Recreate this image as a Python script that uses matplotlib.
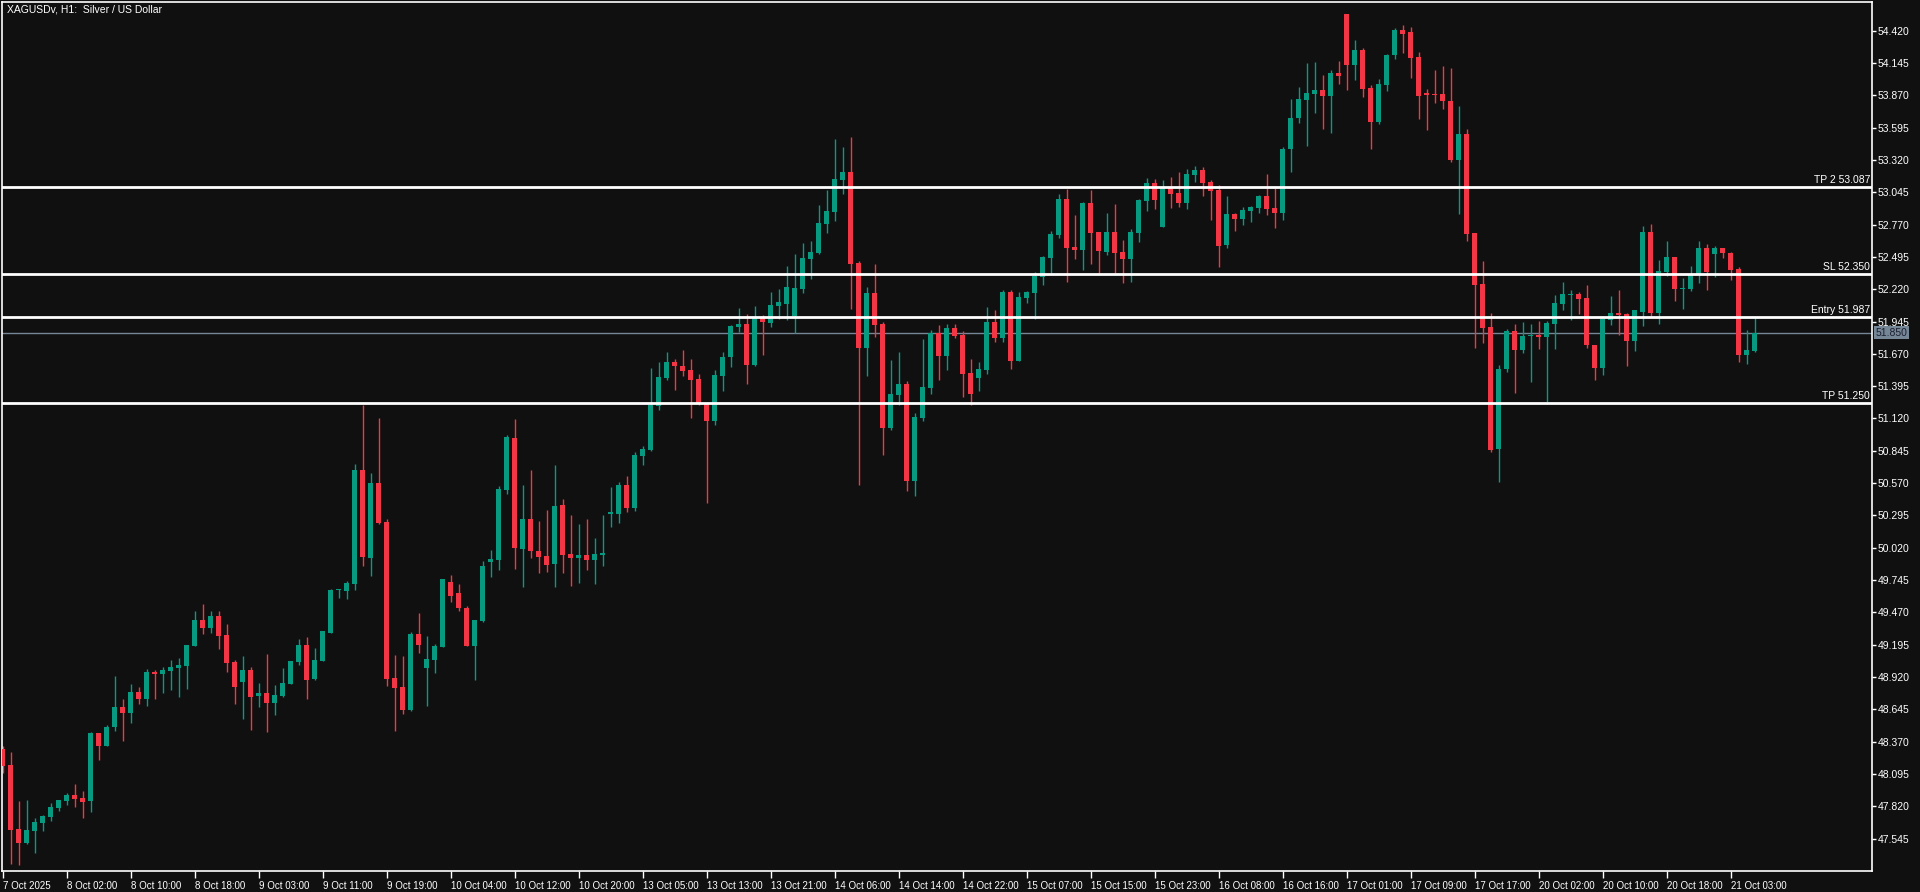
import matplotlib
matplotlib.use("Agg")
import matplotlib.pyplot as plt
import numpy as np

plt.rcParams['font.family'] = ['Liberation Sans', 'DejaVu Sans']

title = "XAGUSDv, H1:  Silver / US Dollar"

opens = [48.307, 48.171, 47.626, 47.510, 47.612, 47.680, 47.731, 47.808, 47.867, 47.916,
         47.890, 47.865, 48.443, 48.333, 48.494, 48.665, 48.613, 48.792, 48.733, 48.962,
         48.945, 48.971, 48.996, 49.013, 49.184, 49.405, 49.337, 49.439, 49.277, 49.047,
         48.877, 48.979, 48.758, 48.784, 48.699, 48.758, 48.860, 49.047, 49.192, 48.902,
         49.056, 49.294, 49.660, 49.651, 49.711, 50.681, 49.932, 50.570, 50.238, 48.911,
         48.834, 48.638, 49.285, 48.996, 49.064, 49.175, 49.728, 49.634, 49.507, 49.183,
         49.396, 49.898, 49.915, 50.511, 50.953, 50.009, 50.264, 49.992, 49.949, 49.881,
         50.383, 49.966, 49.932, 49.958, 49.915, 49.958, 50.307, 50.307, 50.554, 50.360,
         50.800, 50.851, 51.226, 51.464, 51.600, 51.566, 51.532, 51.456, 51.243, 51.098,
         51.481, 51.643, 51.898, 51.924, 51.575, 51.975, 51.932, 52.077, 52.094, 51.992,
         52.222, 52.477, 52.528, 52.775, 52.877, 53.149, 53.217, 52.443, 51.720, 52.188,
         51.924, 51.039, 51.320, 51.413, 50.588, 51.124, 51.379, 51.847, 51.651, 51.890,
         51.830, 51.507, 51.464, 51.532, 51.941, 51.805, 52.196, 51.609, 52.145, 52.188,
         52.324, 52.486, 52.681, 52.988, 52.579, 52.554, 52.954, 52.707, 52.537, 52.707,
         52.537, 52.477, 52.698, 52.971, 53.124, 52.749, 53.081, 53.039, 52.954, 53.192,
         53.234, 53.132, 53.064, 52.596, 52.860, 52.817, 52.886, 52.911, 53.013, 52.911,
         52.869, 53.413, 53.677, 53.830, 53.881, 53.915, 53.864, 54.060, 54.562, 54.128,
         54.255, 53.932, 53.643, 53.958, 54.213, 54.426, 54.409, 54.196, 53.890, 53.881,
         53.881, 53.821, 53.319, 53.541, 52.698, 52.264, 51.898, 50.860, 51.541, 51.864,
         51.702, 51.821, 51.830, 51.813, 51.924, 52.094, 52.170, 52.179, 52.145, 51.745,
         51.549, 51.958, 52.017, 52.009, 51.779, 52.026, 52.707, 52.017, 52.366, 52.494,
         52.222, 52.222, 52.349, 52.570, 52.519, 52.570, 52.528, 52.392, 51.660, 51.694]

highs = [48.330, 48.284, 47.865, 47.873, 47.720, 47.748, 47.847, 47.873, 47.935, 48.009,
         47.950, 48.452, 48.443, 48.511, 48.928, 48.733, 48.860, 48.835, 48.988, 48.979,
         49.005, 49.065, 49.082, 49.192, 49.482, 49.541, 49.482, 49.482, 49.371, 49.065,
         49.099, 49.005, 48.869, 49.116, 48.852, 48.996, 49.056, 49.243, 49.260, 49.166,
         49.311, 49.668, 49.668, 49.736, 50.732, 51.234, 50.656, 51.124, 50.264, 49.107,
         49.098, 49.302, 49.464, 49.268, 49.200, 49.753, 49.787, 49.711, 49.524, 49.404,
         49.907, 50.000, 50.545, 50.979, 51.115, 50.553, 50.681, 50.247, 50.341, 50.724,
         50.434, 50.298, 50.221, 50.264, 50.102, 50.298, 50.536, 50.579, 50.630, 50.834,
         50.886, 51.549, 51.600, 51.686, 51.626, 51.703, 51.626, 51.498, 51.243, 51.532,
         51.686, 51.915, 52.060, 52.009, 52.077, 52.000, 52.196, 52.222, 52.417, 52.520,
         52.613, 52.630, 52.937, 53.064, 53.498, 53.430, 53.515, 52.460, 52.239, 52.434,
         51.941, 51.617, 51.686, 51.439, 51.166, 51.796, 51.873, 51.915, 51.924, 51.924,
         51.864, 51.626, 51.600, 52.069, 52.043, 52.213, 52.213, 52.196, 52.205, 52.366,
         52.503, 52.715, 53.030, 53.073, 52.851, 52.962, 53.064, 52.707, 52.869, 52.945,
         52.639, 52.732, 52.988, 53.166, 53.158, 53.149, 53.175, 53.217, 53.243, 53.269,
         53.260, 53.149, 53.107, 53.013, 52.869, 52.920, 52.928, 53.022, 53.200, 53.081,
         53.430, 53.838, 53.941, 54.145, 54.153, 54.043, 54.085, 54.162, 54.562, 54.341,
         54.272, 53.958, 54.009, 54.221, 54.443, 54.468, 54.451, 54.238, 53.924, 54.085,
         54.119, 54.102, 53.779, 53.583, 52.698, 52.460, 52.017, 51.575, 51.881, 51.924,
         51.941, 51.924, 51.949, 51.949, 52.170, 52.281, 52.213, 52.196, 52.256, 51.745,
         51.975, 52.162, 52.213, 52.017, 52.043, 52.758, 52.775, 52.468, 52.630, 52.494,
         52.315, 52.417, 52.630, 52.605, 52.588, 52.570, 52.536, 52.409, 51.873, 51.975]

lows = [48.100, 47.328, 47.320, 47.499, 47.425, 47.612, 47.697, 47.782, 47.830, 47.811,
        47.723, 47.774, 48.213, 48.333, 48.460, 48.375, 48.528, 48.690, 48.673, 48.733,
        48.784, 48.809, 48.750, 48.818, 49.184, 49.286, 49.294, 49.158, 48.962, 48.690,
        48.562, 48.469, 48.665, 48.452, 48.596, 48.750, 48.860, 49.022, 48.733, 48.894,
        49.056, 49.294, 49.592, 49.583, 49.660, 49.864, 49.779, 50.221, 48.843, 48.460,
        48.604, 48.630, 49.124, 48.673, 48.953, 49.175, 49.558, 49.481, 49.183, 48.894,
        49.387, 49.770, 49.830, 50.477, 49.838, 49.685, 49.932, 49.804, 49.813, 49.685,
        49.804, 49.694, 49.719, 49.830, 49.711, 49.864, 50.196, 50.230, 50.320, 50.330,
        50.724, 50.843, 51.192, 51.447, 51.362, 51.481, 51.124, 51.234, 50.400, 51.064,
        51.354, 51.558, 51.856, 51.413, 51.566, 51.660, 51.898, 51.966, 51.958, 51.847,
        52.188, 52.307, 52.520, 52.698, 52.800, 53.030, 52.051, 50.554, 51.481, 51.813,
        50.809, 51.022, 51.234, 50.503, 50.460, 51.098, 51.328, 51.447, 51.532, 51.805,
        51.303, 51.234, 51.354, 51.498, 51.771, 51.771, 51.541, 51.609, 52.103, 51.966,
        52.256, 52.358, 52.656, 52.281, 52.477, 52.383, 52.434, 52.358, 52.511, 52.358,
        52.273, 52.281, 52.622, 52.886, 52.903, 52.749, 52.911, 52.920, 52.903, 53.132,
        53.013, 52.809, 52.409, 52.571, 52.715, 52.766, 52.792, 52.869, 52.851, 52.741,
        52.809, 53.217, 53.634, 53.438, 53.719, 53.583, 53.549, 53.966, 53.915, 54.000,
        53.855, 53.413, 53.626, 53.907, 54.179, 54.230, 54.017, 53.668, 53.575, 53.804,
        53.753, 53.302, 52.860, 52.630, 51.719, 51.762, 50.834, 50.579, 51.515, 51.336,
        51.677, 51.430, 51.711, 51.260, 51.711, 52.043, 51.958, 52.009, 51.719, 51.447,
        51.490, 51.915, 51.830, 51.566, 51.694, 51.907, 51.992, 51.924, 52.332, 52.119,
        52.051, 52.205, 52.273, 52.213, 52.324, 52.485, 52.298, 51.600, 51.583, 51.685]

closes = [48.165, 47.618, 47.510, 47.618, 47.686, 47.737, 47.813, 47.873, 47.916, 47.884,
          47.856, 48.443, 48.333, 48.494, 48.665, 48.613, 48.792, 48.733, 48.962, 48.945,
          48.979, 49.005, 49.022, 49.192, 49.405, 49.337, 49.439, 49.269, 49.039, 48.835,
          48.979, 48.750, 48.784, 48.699, 48.767, 48.869, 49.056, 49.192, 48.894, 49.064,
          49.311, 49.660, 49.668, 49.719, 50.681, 49.941, 50.570, 50.230, 48.902, 48.826,
          48.638, 49.285, 49.192, 49.073, 49.183, 49.753, 49.609, 49.507, 49.183, 49.404,
          49.864, 49.924, 50.519, 50.962, 50.017, 50.264, 49.992, 49.941, 49.873, 50.375,
          49.958, 49.932, 49.958, 49.915, 49.966, 49.975, 50.324, 50.553, 50.360, 50.809,
          50.860, 51.234, 51.473, 51.600, 51.566, 51.524, 51.447, 51.243, 51.098, 51.490,
          51.643, 51.907, 51.924, 51.575, 51.975, 51.941, 52.086, 52.111, 52.239, 52.230,
          52.486, 52.537, 52.783, 52.886, 53.158, 53.217, 52.434, 51.720, 52.188, 51.915,
          51.039, 51.328, 51.413, 50.588, 51.132, 51.388, 51.847, 51.651, 51.890, 51.822,
          51.498, 51.328, 51.541, 51.941, 51.805, 52.196, 51.609, 52.154, 52.196, 52.332,
          52.494, 52.690, 52.988, 52.571, 52.554, 52.954, 52.698, 52.545, 52.707, 52.528,
          52.477, 52.707, 52.979, 53.124, 52.979, 53.081, 53.030, 52.954, 53.200, 53.234,
          53.124, 53.056, 52.588, 52.860, 52.817, 52.894, 52.920, 53.013, 52.903, 52.869,
          53.413, 53.677, 53.838, 53.890, 53.915, 53.864, 54.060, 54.034, 54.128, 54.255,
          53.924, 53.643, 53.966, 54.213, 54.426, 54.392, 54.187, 53.864, 53.872, 53.872,
          53.821, 53.319, 53.541, 52.690, 52.255, 51.890, 50.851, 51.541, 51.864, 51.702,
          51.821, 51.830, 51.813, 51.932, 52.102, 52.179, 52.179, 52.136, 51.745, 51.549,
          51.966, 52.017, 52.000, 51.779, 52.043, 52.707, 52.017, 52.375, 52.494, 52.222,
          52.230, 52.341, 52.570, 52.366, 52.570, 52.528, 52.383, 51.660, 51.702, 51.850]

x_tick_bars = [0, 8, 16, 24, 32, 40, 48, 56, 64, 72, 80, 88, 96, 104, 112,
               120, 128, 136, 144, 152, 160, 168, 176, 184, 192, 200, 208, 216]
x_tick_labels = ["7 Oct 2025", "8 Oct 02:00", "8 Oct 10:00", "8 Oct 18:00", "9 Oct 03:00",
                 "9 Oct 11:00", "9 Oct 19:00", "10 Oct 04:00", "10 Oct 12:00", "10 Oct 20:00",
                 "13 Oct 05:00", "13 Oct 13:00", "13 Oct 21:00", "14 Oct 06:00", "14 Oct 14:00",
                 "14 Oct 22:00", "15 Oct 07:00", "15 Oct 15:00", "15 Oct 23:00", "16 Oct 08:00",
                 "16 Oct 16:00", "17 Oct 01:00", "17 Oct 09:00", "17 Oct 17:00", "20 Oct 02:00",
                 "20 Oct 10:00", "20 Oct 18:00", "21 Oct 03:00"]

y_ticks = [47.545, 47.820, 48.095, 48.370, 48.645, 48.920, 49.195, 49.470, 49.745, 50.020,
           50.295, 50.570, 50.845, 51.120, 51.395, 51.670, 51.945, 52.220, 52.495, 52.770,
           53.045, 53.320, 53.595, 53.870, 54.145, 54.420]

level_names = ["TP 2", "SL", "Entry", "TP"]
level_values = [53.087, 52.350, 51.987, 51.250]
current_price = 51.850

BG = '#101010'
UP = '#089981'
DOWN = '#F23645'
W = 1920
H = 892

fig = plt.figure(figsize=(W / 100, H / 100), dpi=100, facecolor=BG)
ax = fig.add_axes([2 / W, 21 / H, 1870 / W, 869 / H])
ax.set_facecolor(BG)

o = np.array(opens)
h = np.array(highs)
l = np.array(lows)
c = np.array(closes)
x = np.arange(len(o))
up = c >= o
cols = np.where(up, UP, DOWN)

ax.vlines(x, l, h, colors=cols, linewidth=1.0, zorder=2)
bottoms = np.minimum(o, c)
heights = np.maximum(np.abs(c - o), 0.007)
ax.bar(x, heights, bottom=bottoms, width=0.625, color=cols, linewidth=0, zorder=3)

ax.axhline(current_price, color='#758696', linewidth=1.0, zorder=1)
for name, val in zip(level_names, level_values):
    ax.axhline(val, color='white', linewidth=2.0, zorder=4)
    ax.annotate(f"{name} {val:.3f}", xy=(1, val), xycoords=('axes fraction', 'data'),
                xytext=(-2, 2), textcoords='offset pixels', ha='right', va='bottom',
                color='white', fontsize=7.5, zorder=5)

ax.set_xlim(-0.0875, 233.66)
ax.set_ylim(47.269, 54.664)

ax.yaxis.tick_right()
ax.set_yticks(y_ticks)
ax.set_yticklabels([f"{v:.3f}" for v in y_ticks])
ax.tick_params(axis='y', colors='white', labelcolor='white', length=3, width=1,
               direction='out', pad=1, labelsize=7.5)

ax.set_xticks(x_tick_bars)
ax.set_xticklabels(x_tick_labels)
ax.tick_params(axis='x', colors='white', labelcolor='white', length=5, width=1,
               direction='out', pad=2, labelsize=7)
for lab in ax.get_xticklabels():
    lab.set_ha('left')

for s in ax.spines.values():
    s.set_color('white')
    s.set_linewidth(1.2)

ax.annotate(f"{current_price:.3f}", xy=(1, current_price), xycoords=('axes fraction', 'data'),
            xytext=(4, 0), textcoords='offset pixels', ha='left', va='center',
            color='#1c2030', fontsize=7.5, zorder=6, annotation_clip=False,
            bbox=dict(boxstyle='square,pad=0.15', facecolor='#758696', edgecolor='none'))

fig.text(7 / W, 1 - 10 / H, title, color='white', fontsize=7.5, ha='left', va='center')

fig.savefig('out.png', dpi=100, facecolor=BG)
